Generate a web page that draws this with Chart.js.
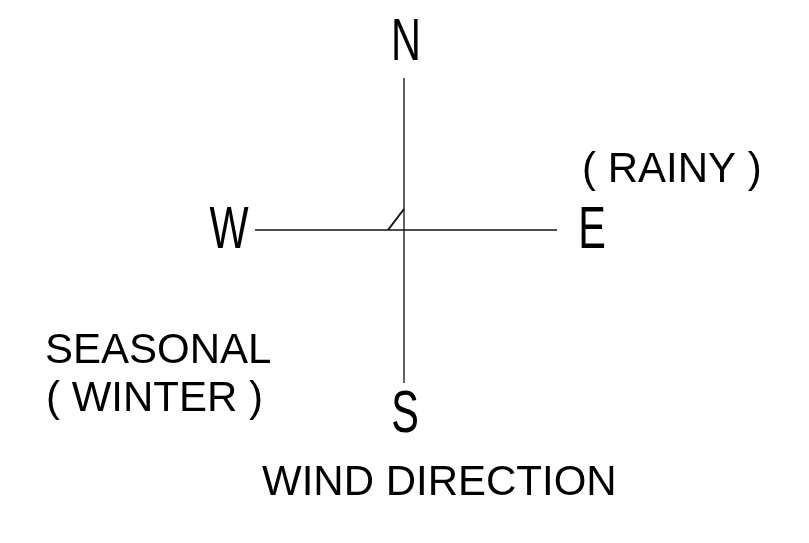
<!DOCTYPE html>
<html>
<head>
<meta charset="utf-8">
<script src="https://cdn.jsdelivr.net/npm/chart.js@4.4.1/dist/chart.umd.min.js"></script>
<style>
  html, body { margin: 0; padding: 0; background: #fff; }
  #wrap { width: 809px; height: 543px; }
</style>
</head>
<body>
<div id="wrap"><canvas id="windChart" width="809" height="543"></canvas></div>
<script>
// Compass arms (drawing units, y grows downward)
const northSouthArm = [{ x: 404, y: 78 }, { x: 404, y: 383 }];
const westEastArm = [{ x: 255, y: 230 }, { x: 557, y: 230 }];
const cornerTick = [{ x: 388, y: 230 }, { x: 404, y: 209 }];

// Compass letters and where their baselines sit
const compassLetters = ['N', 'W', 'E', 'S'];
const compassX = [406, 229, 592, 405];
const compassY = [60, 248, 248, 432];

// Caption texts
const captionTexts = ['( RAINY )', 'SEASONAL', '( WINTER )', 'WIND DIRECTION'];
const captionX = [582, 45, 46, 262];
const captionY = [182, 363, 411, 495];

// Plugin that writes the letters and captions at data positions
const textLabels = {
    id: 'textLabels',
    afterDatasetsDraw(chart) {
        const ctx = chart.ctx;
        const xs = chart.scales.x;
        const ys = chart.scales.y;
        ctx.save();
        ctx.fillStyle = '#000';
        ctx.textBaseline = 'alphabetic';

        // compass letters look condensed, so squeeze them sideways
        ctx.font = '60px "Liberation Sans", Arial, sans-serif';
        ctx.textAlign = 'center';
        compassLetters.forEach((t, i) => {
            ctx.save();
            ctx.translate(xs.getPixelForValue(compassX[i]), ys.getPixelForValue(compassY[i]));
            ctx.scale(0.69, 1);
            ctx.fillText(t, 0, 0);
            ctx.restore();
        });

        ctx.font = '42px "Liberation Sans", Arial, sans-serif';
        ctx.textAlign = 'left';
        captionTexts.forEach((t, i) => {
            ctx.fillText(t, xs.getPixelForValue(captionX[i]), ys.getPixelForValue(captionY[i]));
        });
        ctx.restore();
    }
};

const lineSet = (data, width) => ({
    data: data,
    showLine: true,
    borderColor: '#111',
    borderWidth: width,
    pointRadius: 0,
    fill: false
});

new Chart(document.getElementById('windChart').getContext('2d'), {
    type: 'scatter',
    data: {
        datasets: [
            lineSet(northSouthArm, 1.3),
            lineSet(westEastArm, 1.3),
            lineSet(cornerTick, 2)
        ]
    },
    options: {
        responsive: false,
        animation: false,
        layout: { padding: 0 },
        plugins: {
            legend: { display: false },
            tooltip: { enabled: false }
        },
        scales: {
            x: { type: 'linear', min: 0, max: 809, display: false },
            y: { type: 'linear', min: 0, max: 543, reverse: true, display: false }
        }
    },
    plugins: [textLabels]
});
</script>
</body>
</html>
